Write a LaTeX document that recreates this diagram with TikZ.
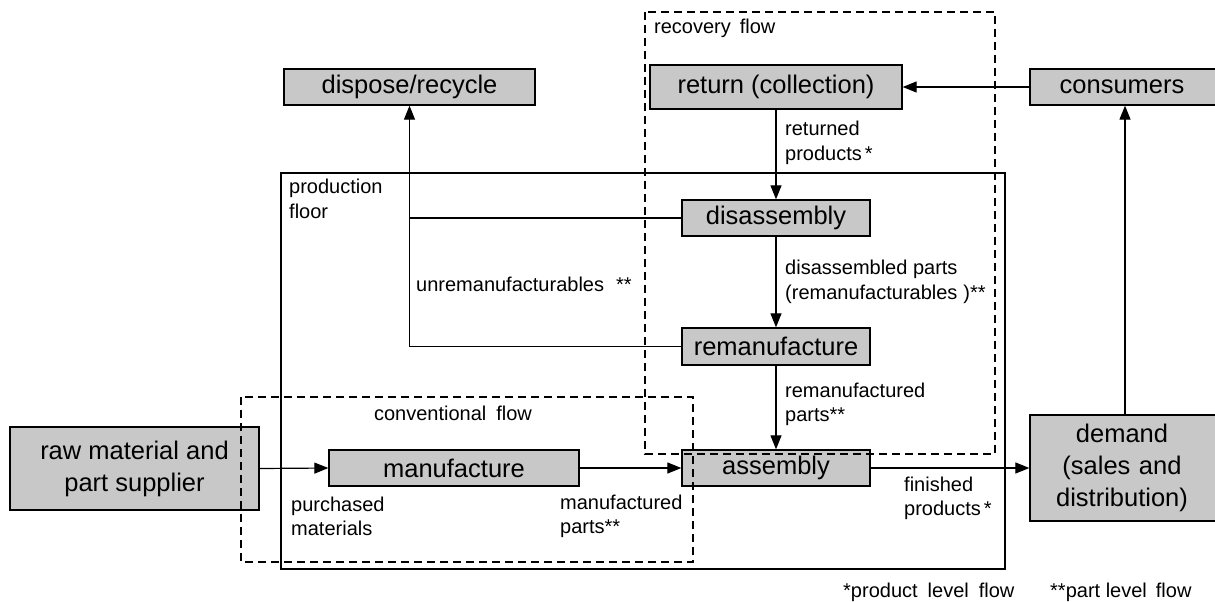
\documentclass[tikz,border=0pt]{standalone}
\usepackage{fontspec}
\setmainfont{Liberation Sans}
\usetikzlibrary{arrows.meta}
\definecolor{boxfill}{RGB}{200,200,200}
\begin{document}
\begin{tikzpicture}[x=1pt,y=-1pt,
  procbox/.style={draw=black,fill=boxfill,line width=1.3pt,rectangle,inner sep=0pt,
    align=center,font=\fontsize{25.5}{32}\selectfont},
  lbl/.style={inner sep=0pt,align=left,font=\fontsize{20}{24.5}\selectfont},
  flow/.style={line width=1.2pt,-{Triangle[length=14pt,width=11pt]}},
  plain/.style={line width=1.2pt},
  region/.style={line width=1.2pt,dash pattern=on 8pt off 5pt},
  floorbox/.style={line width=1.2pt}]
\clip (0,0) rectangle (1215,602);
\fill[white] (0,0) rectangle (1215,602);

% process boxes
\node[procbox,minimum width=251pt,minimum height=36pt] (dispose) at (409.5,87) {dispose/recycle};
\node[procbox,minimum width=252pt,minimum height=44pt] (ret) at (776,87) {return (collection)};
\node[procbox,minimum width=190pt,minimum height=36pt,text width=190pt] (cons) at (1125,87) {\hspace*{-6pt}consumers};
\node[procbox,minimum width=188pt,minimum height=36pt] (disasm) at (776,218) {disassembly};
\node[procbox,minimum width=188pt,minimum height=37pt] (reman) at (776,346.5) {remanufacture};
\node[procbox,minimum width=188pt,minimum height=36pt] (asm) at (776,468) {assembly};
\node[procbox,minimum width=250pt,minimum height=36pt] (manu) at (454,468) {manufacture};
\node[procbox,minimum width=249pt,minimum height=83pt] (raw) at (134.5,468.5) {raw material and\\part supplier};
\node[procbox,minimum width=190pt,minimum height=106pt,text width=190pt] (demand) at (1125,468) {\hspace*{-6pt}demand\\\hspace*{-6pt}(sales and\\\hspace*{-6pt}distribution)};

% junction on the disposal line
\coordinate (junc) at (dispose.south |- disasm.west);

% connectors
\draw[flow] (cons.west) -- (ret.east);
\draw[flow] (ret.south) -- (disasm.north);
\draw[flow] (disasm.south) -- (reman.north);
\draw[flow] (reman.south) -- (asm.north);
\draw[flow] (raw.east) -- (manu.west);
\draw[flow] (manu.east) -- (asm.west);
\draw[flow] (asm.east) -- (demand.west);
\draw[flow] (demand.north -| cons.south) -- (cons.south);
\draw[flow] (disasm.west) -- (junc) -- (dispose.south);
\draw[plain] (reman.west) -| (junc);

% production floor and flow regions
\draw[floorbox] (281,173) rectangle (1005,569);
\draw[region] (645,12) rectangle (995,454);
\draw[region] (241,397) rectangle (693,562);

% labels
\node[lbl,anchor=west] (lfloor) at (289,199) {production\\floor};
\node[lbl,anchor=west] (lrec) at (654,28) {recovery\hspace{0.45em}flow};
\node[lbl,anchor=center] (lconv) at (453,413) {conventional\hspace{0.5em}flow};
\node[lbl,anchor=west] (lret) at (785,143) {returned\\products\hspace{0.15em}*};
\node[lbl,anchor=west] (ldis) at (785,282) {disassembled parts\\(remanufacturables\hspace{0.3em})**};
\node[lbl,anchor=west] (lrem) at (785,404.5) {remanufactured\\parts**};
\node[lbl,anchor=west] (lunr) at (416,284) {unremanufacturables\hspace{0.6em}**};
\node[lbl,anchor=west] (lpur) at (291,516.5) {purchased\\materials};
\node[lbl,anchor=west] (lman) at (560,516.5) {manufactured\\parts**};
\node[lbl,anchor=west] (lfin) at (904,498.5) {finished\\products\hspace{0.15em}*};
\node[lbl,anchor=west] (fn1) at (843,592) {*product\hspace{0.5em}level\hspace{0.5em}flow};
\node[lbl,anchor=west] (fn2) at (1050,592) {**part level\hspace{0.45em}flow};
\end{tikzpicture}
\end{document}
